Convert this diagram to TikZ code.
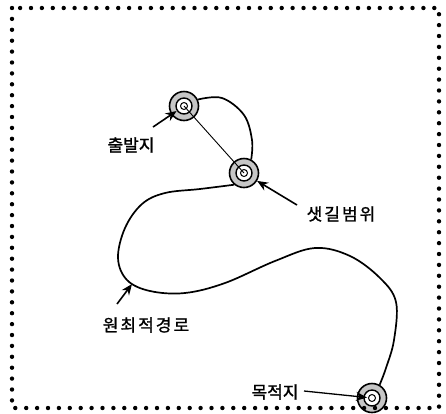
\documentclass[tikz,border=0pt]{standalone}
\usepackage{fontspec}
\newfontfamily\kr{Noto Sans CJK KR}[FakeBold=1.2]
\newfontfamily\krw{Noto Sans CJK KR}[FakeBold=1.2,LetterSpace=12]
\usetikzlibrary{arrows.meta,calc}
\begin{document}
\begin{tikzpicture}[x=1pt,y=-1pt,
  ring/.style={circle,draw,line width=1.6pt,fill=gray!45,minimum size=29pt,inner sep=0pt},
  hole/.style={circle,draw,line width=1.4pt,fill=white,minimum size=16pt,inner sep=0pt},
  dotc/.style={circle,draw,line width=1pt,minimum size=7pt,inner sep=0pt},
  route/.style={line width=1.7pt,line join=round},
  arr/.style={line width=1.6pt,-{Stealth[length=11pt,width=9pt]}},
  lbl/.style={font=\kr\fontsize{17}{19}\selectfont,inner sep=0pt},
  lblw/.style={font=\krw\fontsize{17}{19}\selectfont,inner sep=0pt},
  frame/.style={line width=4.4pt,line cap=round,dash pattern=on 0pt off 10.9pt}]
\useasboundingbox (0,0) rectangle (446,413);
\fill[white] (0,0) rectangle (446,413);
% rings
\node[ring] (s) at (184,106) {};
\node[hole] (si) at (s) {};
\node[dotc] (sc) at (s) {};
\node[ring] (m) at (244,173) {};
\node[hole] (mi) at (m) {};
\node[dotc] (mc) at (m) {};
\node[ring] (d) at (372,398) {};
\node[hole] (di) at (d) {};
\node[dotc] (dc) at (d) {};
% frame
\draw[frame] (12,8) rectangle (439,408);
% thin straight line
\draw[line width=0.9pt] (s.center) -- (m.center);
% routes
\draw[route] plot[smooth,tension=0.6] coordinates {(s.25) (222,98) (244,115) (252,140) (m.62)};
\draw[route] plot[smooth,tension=0.6] coordinates {(m.-130) (200,189) (165,193) (142,204) (125,228) (118,258) (127,280) (150,291) (185,293) (225,283) (275,261) (315,248) (350,256) (380,278) (396,302) (394,340) (386,368) (d.60)};
% labels
\node[lbl] (ls) at (131,145) {출발지};
\node[lblw] (lm) at (341,214) {샛길범위};
\node[lblw] (lr) at (146,325) {원최적경로};
\node[lbl] (ld) at (275,392) {목적지};
% arrows
\coordinate (a1) at (153,127);
\draw[arr] (a1) -- ($(s)!9pt!(a1)$);
\coordinate (a2) at (297,205);
\draw[arr] (a2) -- (m);
\coordinate (a3) at (117,304);
\coordinate (c1) at (132,284);
\draw[arr] (a3) -- (c1);
\coordinate (a4) at (304,391);
\draw[line width=1.3pt,-{Stealth[length=11pt,width=9pt]}] (a4) -- ($(d)!5pt!(a4)$);
\end{tikzpicture}
\end{document}
